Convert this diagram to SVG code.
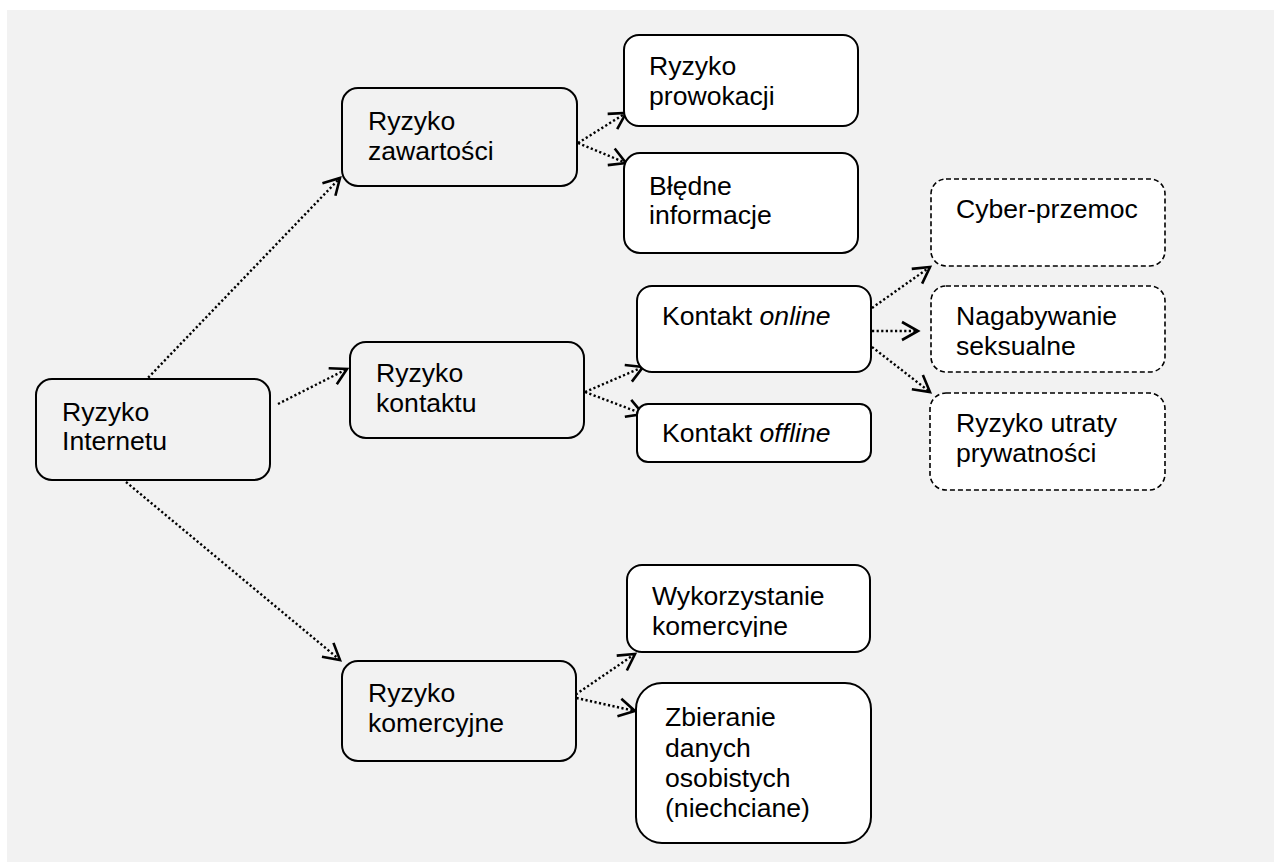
<svg xmlns="http://www.w3.org/2000/svg" width="1274" height="863" viewBox="0 0 1274 863">
<style>
text{font-family:"Liberation Sans",Arial,sans-serif;font-size:26.6px;fill:#000}
.box{stroke:#000;stroke-width:2}
.grey{fill:#f2f2f2}
.white{fill:#fff}
.dash{fill:#fff;stroke:#000;stroke-width:1.6;stroke-dasharray:5 3}
.conn{fill:none;stroke:#000;stroke-width:2.4;stroke-dasharray:2.2 2.4;marker-end:url(#arr)}
</style>
<defs>
<marker id="arr" markerUnits="userSpaceOnUse" markerWidth="24" markerHeight="24" viewBox="-20 -12 24 24" refX="0" refY="0" orient="auto" overflow="visible">
<path d="M-16,-9 L0,0 L-16,9" fill="none" stroke="#000" stroke-width="2.6" stroke-linejoin="miter"/>
</marker>
<clipPath id="clipW"><rect x="627" y="565" width="243" height="72"/></clipPath>
</defs>
<rect x="0" y="0" width="1274" height="863" fill="#fff"/>
<rect x="7" y="10" width="1267" height="852" fill="#f2f2f2"/>
<g id="connectors">
<line class="conn" x1="145" y1="381" x2="340" y2="178"/>
<line class="conn" x1="278" y1="404" x2="347" y2="369"/>
<line class="conn" x1="126" y1="482" x2="340" y2="660"/>
<line class="conn" x1="578" y1="143" x2="626" y2="113"/>
<line class="conn" x1="578" y1="143" x2="626" y2="163"/>
<line class="conn" x1="585" y1="392" x2="643" y2="367"/>
<line class="conn" x1="585" y1="392" x2="643" y2="414"/>
<line class="conn" x1="872" y1="308" x2="930" y2="267"/>
<line class="conn" x1="872" y1="331" x2="918" y2="331"/>
<line class="conn" x1="872" y1="347" x2="930" y2="392"/>
<line class="conn" x1="572" y1="697" x2="635" y2="654"/>
<line class="conn" x1="572" y1="697" x2="635" y2="711"/>
</g>
<g id="n-internet">
<rect class="box grey" x="36" y="379" width="234" height="101" rx="16"/>
<text x="62" y="421">Ryzyko</text>
<text x="62" y="450">Internetu</text>
</g>
<g id="n-zawartosci">
<rect class="box grey" x="342" y="88" width="235" height="98" rx="16"/>
<text x="368" y="130">Ryzyko</text>
<text x="368" y="160">zawartości</text>
</g>
<g id="n-kontaktu">
<rect class="box grey" x="350" y="342" width="234" height="96" rx="16"/>
<text x="376" y="382">Ryzyko</text>
<text x="376" y="412">kontaktu</text>
</g>
<g id="n-komercyjne">
<rect class="box grey" x="342" y="661" width="234" height="100" rx="16"/>
<text x="368" y="702">Ryzyko</text>
<text x="368" y="732">komercyjne</text>
</g>
<g id="n-prowokacji">
<rect class="box white" x="624" y="35" width="234" height="91" rx="15"/>
<text x="649" y="75">Ryzyko</text>
<text x="649" y="105">prowokacji</text>
</g>
<g id="n-bledne">
<rect class="box white" x="624" y="153" width="234" height="100" rx="16"/>
<text x="649" y="195">Błędne</text>
<text x="649" y="224">informacje</text>
</g>
<g id="n-online">
<rect class="box white" x="637" y="286" width="234" height="86" rx="15"/>
<text x="662" y="325">Kontakt <tspan font-style="italic">online</tspan></text>
</g>
<g id="n-offline">
<rect class="box white" x="637" y="404" width="234" height="58" rx="11"/>
<text x="662" y="442">Kontakt <tspan font-style="italic">offline</tspan></text>
</g>
<g id="n-cyber">
<rect class="dash" x="931" y="179" width="234" height="87" rx="15"/>
<text x="956" y="218">Cyber-przemoc</text>
</g>
<g id="n-nagabywanie">
<rect class="dash" x="931" y="286" width="234" height="86" rx="15"/>
<text x="956" y="325">Nagabywanie</text>
<text x="956" y="355">seksualne</text>
</g>
<g id="n-prywatnosci">
<rect class="dash" x="930" y="393" width="235" height="97" rx="16"/>
<text x="956" y="432">Ryzyko utraty</text>
<text x="956" y="462">prywatności</text>
</g>
<g id="n-wykorzystanie">
<rect class="box white" x="627" y="565" width="243" height="87" rx="15"/>
<g clip-path="url(#clipW)">
<text x="652" y="605">Wykorzystanie</text>
<text x="652" y="635">komercyjne</text>
</g>
</g>
<g id="n-zbieranie">
<rect class="box white" x="636" y="683" width="235" height="160" rx="26"/>
<text x="665" y="726">Zbieranie</text>
<text x="665" y="757">danych</text>
<text x="665" y="787">osobistych</text>
<text x="665" y="817">(niechciane)</text>
</g>
</svg>
